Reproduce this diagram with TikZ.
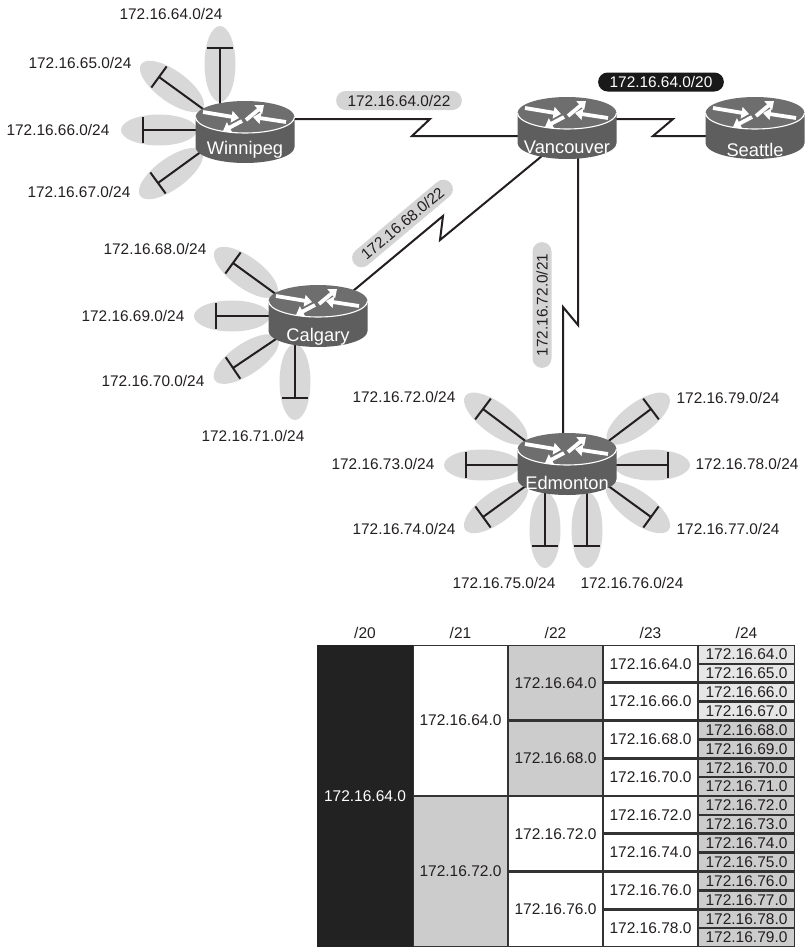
\documentclass[tikz,border=0pt]{standalone}
\usepackage{fontspec}
\setmainfont{Liberation Sans}
\usetikzlibrary{arrows.meta,calc}
\definecolor{petalgray}{HTML}{D8D8D8}
\definecolor{pillgray}{HTML}{D4D4D4}
\definecolor{rtop}{HTML}{6E6E6E}
\definecolor{rbody}{HTML}{5E5E5E}
\definecolor{ink}{HTML}{231F20}
\definecolor{tgrid}{HTML}{333333}
\definecolor{tblack}{HTML}{222222}
\definecolor{tgray}{HTML}{CCCCCC}
\definecolor{tlight}{HTML}{E6E6E6}
\tikzset{
 petalfill/.style={fill=petalgray},
 petalline/.style={draw=ink,line width=2pt},
 link/.style={draw=ink,line width=2pt},
 lbl/.style={font=\fontsize{15.4}{18}\selectfont, text=ink, inner sep=0pt},
 pill/.style={lbl, fill=pillgray, rounded corners=9.5pt, minimum height=19pt, inner xsep=11.5pt, inner ysep=0pt},
 blackpill/.style={pill, fill=black!90, text=white},
 rtext/.style={font=\fontsize{18.3}{20}\selectfont, text=white, inner sep=0pt, anchor=base},
 rarrow/.style={draw=white, line width=3.8pt, -{Triangle[length=7.5pt,width=11.5pt]}},
 tcell/.style={font=\fontsize{15.5}{18}\selectfont, text=ink, inner sep=0pt},
}
\newcommand\petalE[3]{\fill[petalfill,shift={(#1,-#2)},rotate=#3] (-16,0) ellipse[x radius=38pt,y radius=15.5pt];}
\newcommand\petalL[3]{\draw[petalline,shift={(#1,-#2)},rotate=#3] (-64,0) -- (0,0) (0,-13) -- (0,13);}
\newcommand\router[5]{%
 \begin{scope}[shift={(#2,-#3)}]
  \fill[rbody] (-49.5,0) -- (-49.5,-30) arc[start angle=180,end angle=360,x radius=49.5pt,y radius=16pt] -- (49.5,0) -- cycle;
  \fill[rtop] (0,0) ellipse[x radius=49.5pt,y radius=16pt];
  \draw[white,line width=1.1pt] (-49.5,0) arc[start angle=180,end angle=360,x radius=49.5pt,y radius=16pt];
  \draw[rarrow] (-42,5) -- (-6,-1);
  \draw[rarrow] (1,-3) -- (19,12);
  \draw[rarrow] (41,-5) -- (8,0);
  \draw[rarrow] (-3,-4) -- (-22,-14);
  \node[rtext] (#1) at (0,-#5) {#4};
 \end{scope}}
\newcommand\tcellbox[7]{%
 \fill[#6] ({#2+1.3},{-645-#4*18.875-1.3}) rectangle ({#3-1.3},{-645-#5*18.875+1.3});
 \node[tcell] (#1) at ({(#2+#3)/2},{-645-(#4+#5)*18.875/2}) {#7};}
\begin{document}
\begin{tikzpicture}[x=1pt,y=1pt]
\useasboundingbox (0,0) rectangle (805,-948);
% petal ellipses
\petalE{220}{48}{90}
\petalE{159}{77}{144}
\petalE{143}{130}{180}
\petalE{158}{183}{216}
\petalE{233}{263}{144}
\petalE{216}{316}{180}
\petalE{233}{368}{214}
\petalE{295}{398}{270}
\petalE{483}{409}{143}
\petalE{466}{465}{180}
\petalE{483}{517}{216}
\petalE{545}{546}{270}
\petalE{587}{546}{270}
\petalE{651}{517}{324}
\petalE{668}{465}{0}
\petalE{651}{409}{37}
% petal lines
\petalL{220}{48}{90}
\petalL{159}{77}{144}
\petalL{143}{130}{180}
\petalL{158}{183}{216}
\petalL{233}{263}{144}
\petalL{216}{316}{180}
\petalL{233}{368}{214}
\petalL{295}{398}{270}
\petalL{483}{409}{143}
\petalL{466}{465}{180}
\petalL{483}{517}{216}
\petalL{545}{546}{270}
\petalL{587}{546}{270}
\petalL{651}{517}{324}
\petalL{668}{465}{0}
\petalL{651}{409}{37}
% serial links
\coordinate (wpgE) at (280,-119);
\coordinate (zwa) at (430,-119);
\coordinate (zwb) at (412,-136);
\coordinate (vanW) at (530,-136);
\draw[link] (wpgE) -- (zwa) -- (zwb) -- (vanW);
\coordinate (vanE) at (600,-119);
\coordinate (zsa) at (673,-119);
\coordinate (zsb) at (653,-136);
\coordinate (seaW) at (720,-136);
\draw[link] (vanE) -- (zsa) -- (zsb) -- (seaW);
\coordinate (vanSW) at (546,-152.6);
\coordinate (zca) at (440,-240);
\coordinate (zcb) at (443,-216);
\coordinate (calNE) at (347,-296);
\draw[link] (vanSW) -- (zca) -- (zcb) -- (calNE);
\coordinate (vanS) at (578,-150);
\coordinate (zea) at (578,-325);
\coordinate (zeb) at (563,-307);
\coordinate (edmN) at (563,-450);
\draw[link] (vanS) -- (zea) -- (zeb) -- (edmN);
% routers
\router{wpg}{245}{117}{Winnipeg}{37}
\router{van}{567}{113}{Vancouver}{40}
\router{sea}{755}{113}{Seattle}{43}
\router{cal}{318}{301}{Calgary}{40}
\router{edm}{567}{449}{Edmonton}{40}
% link labels
\node[pill] (p22a) at (399,-100.5) {172.16.64.0/22};
\node[blackpill] (p20) at (661,-82) {172.16.64.0/20};
\node[pill,rotate=40] (p22b) at (402.5,-223.5) {172.16.68.0/22};
\node[pill,rotate=90] (p21) at (542,-305) {172.16.72.0/21};
% subnet labels
\node[lbl] (n64) at (171,-14) {172.16.64.0/24};
\node[lbl] (n65) at (80,-63) {172.16.65.0/24};
\node[lbl] (n66) at (58,-130) {172.16.66.0/24};
\node[lbl] (n67) at (79,-192) {172.16.67.0/24};
\node[lbl] (n68) at (155,-249) {172.16.68.0/24};
\node[lbl] (n69) at (133,-316) {172.16.69.0/24};
\node[lbl] (n70) at (153,-381) {172.16.70.0/24};
\node[lbl] (n71) at (253,-436) {172.16.71.0/24};
\node[lbl] (n72) at (404,-397) {172.16.72.0/24};
\node[lbl] (n73) at (383,-464) {172.16.73.0/24};
\node[lbl] (n74) at (404,-529) {172.16.74.0/24};
\node[lbl] (n75) at (504,-583) {172.16.75.0/24};
\node[lbl] (n76) at (632,-583) {172.16.76.0/24};
\node[lbl] (n77) at (728,-529) {172.16.77.0/24};
\node[lbl] (n78) at (747,-464) {172.16.78.0/24};
\node[lbl] (n79) at (728,-398) {172.16.79.0/24};
% table
\node[tcell] (h20) at (365,-633) {/20};
\node[tcell] (h21) at (460.5,-633) {/21};
\node[tcell] (h22) at (555.5,-633) {/22};
\node[tcell] (h23) at (650.5,-633) {/23};
\node[tcell] (h24) at (746.5,-633) {/24};
\fill[tgrid] (317,-645) rectangle (795,-947);
\fill[tblack] (317,-645) rectangle (413,-947);
\node[tcell,text=white] (t20) at (365,-796) {172.16.64.0};
\tcellbox{t21a}{413}{508}{0}{8}{white}{172.16.64.0}
\tcellbox{t21b}{413}{508}{8}{16}{tgray}{172.16.72.0}
\foreach \k/\f in {0/tgray,1/tgray,2/white,3/white}{%
 \pgfmathtruncatemacro\n{64+4*\k}\pgfmathtruncatemacro\ra{4*\k}\pgfmathtruncatemacro\rb{4*\k+4}%
 \tcellbox{t22-\k}{508}{603}{\ra}{\rb}{\f}{172.16.\n.0}}
\foreach \k in {0,...,7}{%
 \pgfmathtruncatemacro\n{64+2*\k}\pgfmathtruncatemacro\ra{2*\k}\pgfmathtruncatemacro\rb{2*\k+2}%
 \tcellbox{t23-\k}{603}{698}{\ra}{\rb}{white}{172.16.\n.0}}
\foreach \k in {0,...,15}{%
 \pgfmathtruncatemacro\n{64+\k}\pgfmathtruncatemacro\rb{\k+1}%
 \ifnum\k<4 \def\f{tlight}\else\def\f{tgray}\fi
 \tcellbox{t24-\k}{698}{795}{\k}{\rb}{\f}{172.16.\n.0}}
\end{tikzpicture}
\end{document}
